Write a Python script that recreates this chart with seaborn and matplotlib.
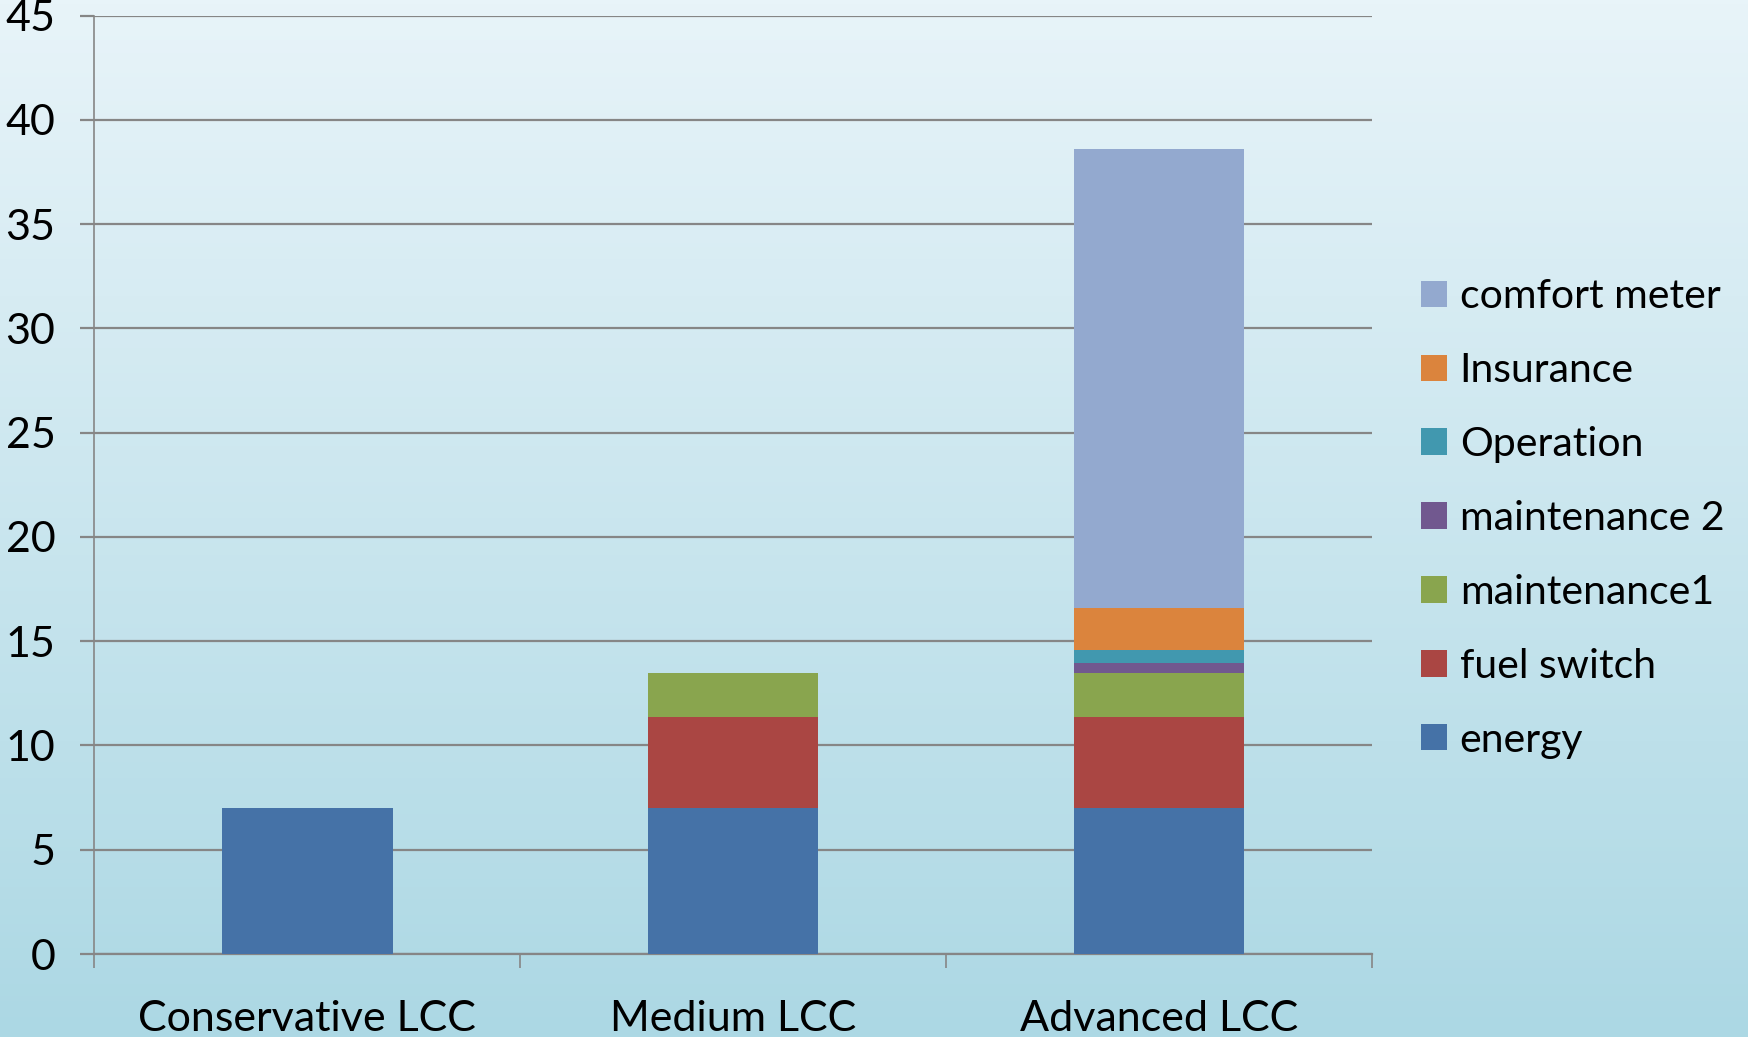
import numpy as np
import matplotlib
matplotlib.use("Agg")
import matplotlib.pyplot as plt
from matplotlib.patches import Patch
from matplotlib.colors import LinearSegmentedColormap
import seaborn as sns

categories = ["Conservative LCC", "Medium LCC", "Advanced LCC"]
series_names = ["energy", "fuel switch", "maintenance1", "maintenance 2",
                "Operation", "Insurance", "comfort meter"]
energy = [7.0, 7.0, 7.0]
fuel_switch = [0.0, 4.37, 4.37]
maintenance1 = [0.0, 2.1, 2.1]
maintenance2 = [0.0, 0.0, 0.48]
operation = [0.0, 0.0, 0.62]
insurance = [0.0, 0.0, 2.02]
comfort_meter = [0.0, 0.0, 22.0]
colors = ["#4572a7", "#aa4643", "#89a54e", "#71588f", "#4198af", "#db843d", "#93a9cf"]
y_ticks = [0, 5, 10, 15, 20, 25, 30, 35, 40, 45]

series = [energy, fuel_switch, maintenance1, maintenance2, operation, insurance, comfort_meter]

plt.rcParams['font.family'] = ['Lato', 'DejaVu Sans']

fig = plt.figure(figsize=(17.48, 10.37), dpi=100)

# gradient background
bg = fig.add_axes([0, 0, 1, 1], zorder=-10)
cmap = LinearSegmentedColormap.from_list("bg", ["#e8f4f9", "#acd8e4"])
bg.imshow(np.linspace(0, 1, 256).reshape(-1, 1), aspect="auto", cmap=cmap,
          extent=[0, 1, 0, 1])
bg.set_axis_off()

ax = fig.add_axes([0.054, 0.080, 0.731, 0.905])
ax.patch.set_alpha(0)

bottom = np.zeros(len(categories))
for name, vals, col in zip(series_names, series, colors):
    sns.barplot(x=categories, y=vals, bottom=bottom, color=col, saturation=1,
                width=0.4, ax=ax, zorder=3, linewidth=0)
    bottom = bottom + np.array(vals)

ax.set_ylim(0, 45)
ax.set_xlim(-0.5, 2.5)
ax.set_yticks(y_ticks)
ax.yaxis.grid(True, color="#868686", linewidth=1.6, zorder=1)
ax.set_axisbelow(True)

ax.set_xticks([-0.5, 0.5, 1.5, 2.5])
ax.set_xticklabels([])
ax.set_xticks([0, 1, 2], minor=True)
ax.set_xticklabels(categories, minor=True)
ax.tick_params(axis="x", which="major", length=10, width=1.2, color="#868686")
ax.tick_params(axis="x", which="minor", length=0, pad=33, labelsize=31)
ax.tick_params(axis="y", length=10, width=1.6, color="#868686", pad=18, labelsize=31)

for s in ["top", "right"]:
    ax.spines[s].set_visible(False)
ax.spines["left"].set_color("#868686")
ax.spines["left"].set_linewidth(1.2)
ax.spines["bottom"].set_color("#868686")
ax.spines["bottom"].set_linewidth(1.6)
ax.set_xlabel("")
ax.set_ylabel("")

handles = [Patch(facecolor=c, edgecolor="none", label=n) for n, c in zip(series_names, colors)]
fig.legend(handles=handles[::-1], loc="center left", bbox_to_anchor=(0.813, 0.5),
           frameon=False, fontsize=29.5, handlelength=0.62, handleheight=0.62,
           handletextpad=0.32, labelspacing=0.9, borderpad=0, borderaxespad=0)

fig.savefig("out.png", dpi=100)
